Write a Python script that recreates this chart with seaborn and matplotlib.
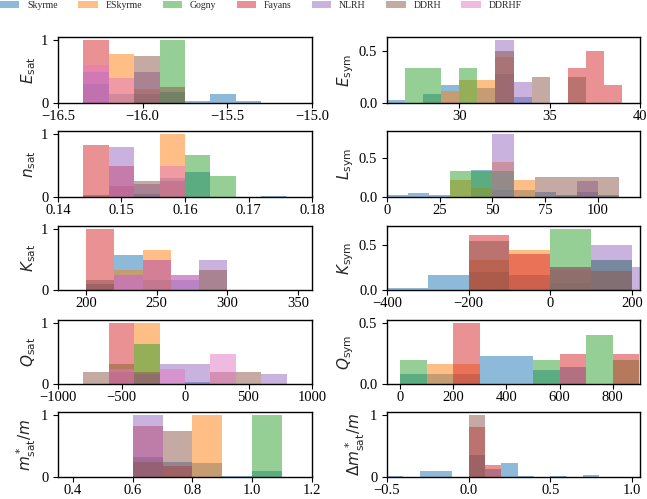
import numpy as np
import pandas as pd
import matplotlib
matplotlib.use("Agg")
import matplotlib.pyplot as plt
from matplotlib.patches import Patch
import seaborn as sns

models = ["Skyrme", "ESkyrme", "Gogny", "Fayans", "NLRH", "DDRH", "DDRHF"]

# ---------------- data: bin edges and per-model bin fractions ----------------
esat_edges = [-16.35, -16.2, -16.05, -15.9, -15.75, -15.6, -15.45, -15.3]
esat = {
    "Skyrme":  [0.30, 0.15, 0.15, 0.17, 0.035, 0.15, 0.035],
    "ESkyrme": [0, 0.78, 0.22, 0, 0, 0, 0],
    "Gogny":   [0, 0, 0, 1.0, 0, 0, 0],
    "Fayans":  [1.0, 0, 0, 0, 0, 0, 0],
    "NLRH":    [0.5, 0, 0.5, 0, 0, 0, 0],
    "DDRH":    [0, 0, 0.75, 0.25, 0, 0, 0],
    "DDRHF":   [0.6, 0.4, 0, 0, 0, 0, 0],
}

nsat_edges = [0.144, 0.148, 0.152, 0.156, 0.160, 0.164, 0.168, 0.172, 0.176]
nsat = {
    "Skyrme":  [0.03, 0.17, 0.05, 0.3, 0.4, 0, 0, 0.02],
    "ESkyrme": [0, 0, 0, 1.0, 0, 0, 0, 0],
    "Gogny":   [0, 0, 0, 0, 0.67, 0.33, 0, 0],
    "Fayans":  [0.83, 0.17, 0, 0, 0, 0, 0, 0],
    "NLRH":    [0, 0.8, 0.2, 0, 0, 0, 0, 0],
    "DDRH":    [0, 0.5, 0.25, 0.25, 0, 0, 0, 0],
    "DDRHF":   [0, 0.5, 0, 0.5, 0, 0, 0, 0],
}

ksat_edges = [200, 220, 240, 260, 280, 300]
ksat = {
    "Skyrme":  [0.1, 0.57, 0.16, 0.17, 0],
    "ESkyrme": [0, 0.33, 0.66, 0, 0],
    "Gogny":   [0, 0, 0, 0, 0],
    "Fayans":  [1.0, 0, 0, 0, 0],
    "NLRH":    [0, 0.25, 0, 0.25, 0.5],
    "DDRH":    [0.17, 0, 0.5, 0, 0.33],
    "DDRHF":   [0, 0.25, 0.5, 0.25, 0],
}

qsat_edges = [-800, -600, -400, -200, 0, 200, 400, 600, 800]
qsat = {
    "Skyrme":  [0, 0, 0, 0, 0.03, 0, 0, 0],
    "ESkyrme": [0, 0, 1.0, 0, 0, 0, 0, 0],
    "Gogny":   [0, 0.33, 0.66, 0, 0, 0, 0, 0],
    "Fayans":  [0, 1.0, 0, 0, 0, 0, 0, 0],
    "NLRH":    [0, 0, 0.17, 0.33, 0.33, 0, 0, 0.17],
    "DDRH":    [0.2, 0.2, 0.2, 0, 0, 0.2, 0.2, 0],
    "DDRHF":   [0, 0.25, 0, 0.25, 0, 0.5, 0, 0],
}

msat_edges = [0.6, 0.7, 0.8, 0.9, 1.0, 1.1]
msat = {
    "Skyrme":  [0.33, 0.25, 0.23, 0.02, 0.09],
    "ESkyrme": [0, 0, 1.0, 0, 0],
    "Gogny":   [0, 0, 0, 0, 1.0],
    "Fayans":  [0.83, 0.17, 0, 0, 0],
    "NLRH":    [1.0, 0, 0, 0, 0],
    "DDRH":    [0.25, 0.75, 0, 0, 0],
    "DDRHF":   [0, 0, 0, 0, 0],
}

esym_edges = [26, 27, 28, 29, 30, 31, 32, 33, 34, 35, 36, 37, 38, 39]
esym = {
    "Skyrme":  [0.025, 0, 0.085, 0.17, 0, 0.14, 0.28, 0.055, 0, 0, 0, 0, 0],
    "ESkyrme": [0, 0, 0, 0.11, 0.22, 0.22, 0.44, 0, 0, 0, 0, 0, 0],
    "Gogny":   [0, 0.33, 0.33, 0, 0.33, 0, 0, 0, 0, 0, 0, 0, 0],
    "Fayans":  [0, 0, 0, 0, 0, 0, 0, 0, 0, 0, 0.33, 0.5, 0.17],
    "NLRH":    [0, 0, 0, 0, 0, 0, 0.6, 0.2, 0, 0, 0, 0, 0],
    "DDRH":    [0, 0, 0, 0, 0, 0, 0.5, 0, 0.25, 0, 0.25, 0, 0],
    "DDRHF":   [0, 0, 0, 0, 0, 0, 0, 0, 0, 0, 0, 0, 0],
}

lsym_edges = [0, 10, 20, 30, 40, 50, 60, 70, 80, 90, 100, 110]
lsym = {
    "Skyrme":  [0.02, 0.055, 0.02, 0, 0.35, 0.085, 0.085, 0.06, 0.03, 0.06, 0.03],
    "ESkyrme": [0, 0, 0, 0.22, 0.11, 0.44, 0.22, 0, 0, 0, 0],
    "Gogny":   [0, 0, 0, 0.33, 0.33, 0.33, 0, 0, 0, 0, 0],
    "Fayans":  [0, 0, 0, 0, 0, 0, 0, 0, 0, 0, 0],
    "NLRH":    [0, 0, 0, 0, 0, 0.8, 0, 0, 0, 0.2, 0],
    "DDRH":    [0, 0, 0, 0, 0, 0, 0, 0.25, 0.25, 0.25, 0.25],
    "DDRHF":   [0, 0, 0, 0, 0, 0, 0, 0, 0, 0, 0],
}

ksym_edges = [-400, -300, -200, -100, 0, 100, 200, 300]
ksym = {
    "Skyrme":  [0.025, 0.17, 0.2, 0.17, 0.08, 0.33, 0],
    "ESkyrme": [0, 0, 0.33, 0.44, 0.22, 0, 0],
    "Gogny":   [0, 0, 0, 0, 0.67, 0.33, 0],
    "Fayans":  [0, 0, 0.6, 0.4, 0, 0, 0],
    "NLRH":    [0, 0, 0, 0, 0.25, 0.5, 0.25],
    "DDRH":    [0, 0, 0.54, 0, 0.25, 0.21, 0],
    "DDRHF":   [0, 0, 0, 0, 0, 0, 0],
}

qsym_edges = [0, 100, 200, 300, 400, 500, 600, 700, 800, 900]
qsym = {
    "Skyrme":  [0.085, 0.085, 0.085, 0.23, 0.23, 0.115, 0.14, 0, 0],
    "ESkyrme": [0, 0.165, 0.165, 0, 0, 0, 0, 0, 0],
    "Gogny":   [0.2, 0, 0, 0, 0, 0.2, 0, 0.4, 0.2],
    "Fayans":  [0, 0, 0.5, 0, 0, 0, 0.25, 0, 0.25],
    "NLRH":    [0, 0, 0, 0, 0, 0, 0, 0, 0],
    "DDRH":    [0, 0, 0, 0, 0, 0, 0, 0, 0],
    "DDRHF":   [0, 0, 0, 0, 0, 0, 0, 0, 0],
}

dm_edges = [-0.5, -0.4, -0.3, -0.2, -0.1, 0.0, 0.1, 0.2, 0.3, 0.4, 0.5, 0.6, 0.7, 0.8]
dm = {
    "Skyrme":  [0.015, 0, 0.1, 0.1, 0, 0.35, 0.13, 0.22, 0.015, 0, 0.015, 0, 0.04],
    "ESkyrme": [0] * 13,
    "Gogny":   [0] * 13,
    "Fayans":  [0, 0, 0, 0, 0, 0.8, 0.2, 0, 0, 0, 0, 0, 0],
    "NLRH":    [0] * 13,
    "DDRH":    [0, 0, 0, 0, 0, 1.0, 0, 0, 0, 0, 0, 0, 0],
    "DDRHF":   [0] * 13,
}

# ---------------- style ----------------
sns.set_theme(style="ticks")
plt.rcParams["font.family"] = ["Liberation Serif", "DejaVu Serif"]
plt.rcParams["mathtext.fontset"] = "dejavusans"
plt.rcParams["axes.edgecolor"] = "black"
plt.rcParams["axes.linewidth"] = 1.0
plt.rcParams["xtick.color"] = "black"
plt.rcParams["ytick.color"] = "black"
plt.rcParams["xtick.major.size"] = 3.5
plt.rcParams["ytick.major.size"] = 3.5
plt.rcParams["xtick.major.width"] = 0.8
plt.rcParams["ytick.major.width"] = 0.8
plt.rcParams["xtick.major.pad"] = 1.5
plt.rcParams["ytick.major.pad"] = 3.5

palette = dict(zip(models, sns.color_palette("tab10", 7)))

W, H = 647, 499
fig = plt.figure(figsize=(W / 100, H / 100), dpi=100)

left_x, left_w = 58, 254
right_x, right_w = 387, 253
rows = [(37, 103), (131, 197), (226, 290), (320, 384), (412, 477)]

panels = [
    # (data, edges, ylabel, xlim, xticks, yticks, col, row)
    (esat, esat_edges, r"$E_{\rm sat}$", (-16.5, -15.0), [-16.5, -16.0, -15.5, -15.0], [0, 1], 0, 0),
    (nsat, nsat_edges, r"$n_{\rm sat}$", (0.14, 0.18), [0.14, 0.15, 0.16, 0.17, 0.18], [0, 1], 0, 1),
    (ksat, ksat_edges, r"$K_{\rm sat}$", (180, 360), [200, 250, 300, 350], [0, 1], 0, 2),
    (qsat, qsat_edges, r"$Q_{\rm sat}$", (-1000, 1000), [-1000, -500, 0, 500, 1000], [0, 1], 0, 3),
    (msat, msat_edges, r"$m^*_{\rm sat}/m$", (0.35, 1.2), [0.4, 0.6, 0.8, 1.0, 1.2], [0, 1], 0, 4),
    (esym, esym_edges, r"$E_{\rm sym}$", (26, 40), [30, 35, 40], [0, 0.5], 1, 0),
    (lsym, lsym_edges, r"$L_{\rm sym}$", (0, 120), [0, 25, 50, 75, 100], [0, 0.5], 1, 1),
    (ksym, ksym_edges, r"$K_{\rm sym}$", (-400, 220), [-400, -200, 0, 200], [0, 0.5], 1, 2),
    (qsym, qsym_edges, r"$Q_{\rm sym}$", (-50, 903), [0, 200, 400, 600, 800], [0, 0.5], 1, 3),
    (dm, dm_edges, r"$\Delta m^*_{\rm sat}/m$", (-0.5, 1.05), [-0.5, 0.0, 0.5, 1.0], [0, 1], 1, 4),
]

for data, edges, ylabel, xlim, xticks, yticks, col, row in panels:
    x0 = left_x if col == 0 else right_x
    w = left_w if col == 0 else right_w
    top, bot = rows[row]
    ax = fig.add_axes([x0 / W, 1 - bot / H, w / W, (bot - top) / H])
    edges_list = [float(e) for e in edges]
    centers = [0.5 * (a + b) for a, b in zip(edges_list[:-1], edges_list[1:])]
    for m in models:
        vals = [float(v) for v in data[m]]
        if sum(vals) <= 0:
            continue
        df = pd.DataFrame({"x": centers, "w": vals})
        sns.histplot(data=df, x="x", weights="w", bins=edges_list, stat="count",
                     color=palette[m], alpha=0.5, linewidth=0,
                     ax=ax)
    ax.set_xlim(*xlim)
    ax.set_xticks(xticks)
    ax.set_yticks(yticks)
    ax.set_xlabel("")
    ax.set_ylabel(ylabel, fontsize=11, labelpad=2)
    ax.tick_params(labelsize=10.5, direction="out")
    for s in ax.spines.values():
        s.set_visible(True)
        s.set_color("black")

handles = [Patch(facecolor=palette[m], alpha=0.5, edgecolor="none") for m in models]
fig.legend(handles, models, loc="upper left", bbox_to_anchor=(0.0, 1.0 - 1.0 / H),
           ncol=7, frameon=False, fontsize=7, borderpad=0, borderaxespad=0,
           handletextpad=0.8, columnspacing=2.1, handleheight=0.8)

fig.savefig("out.png", dpi=100)
